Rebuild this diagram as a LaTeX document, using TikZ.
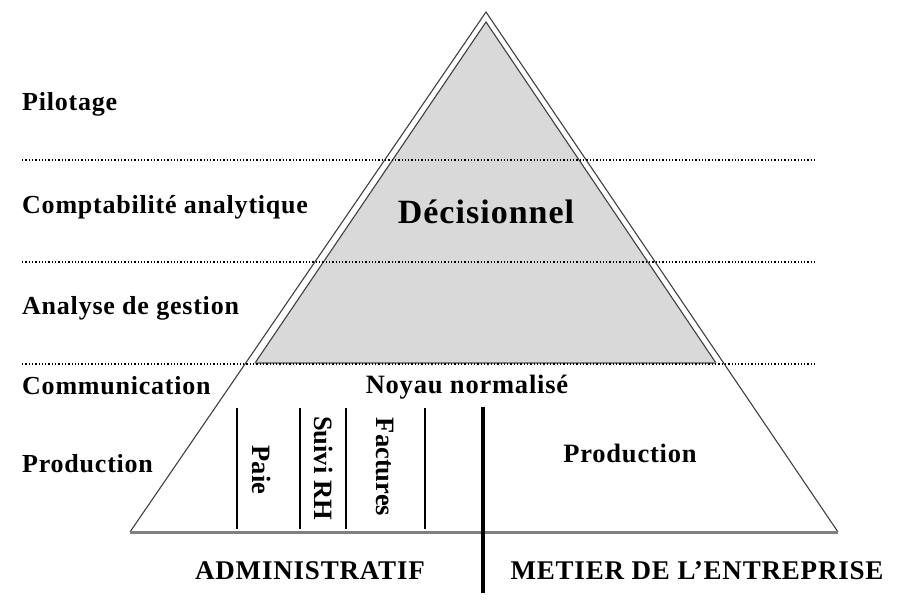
\documentclass[tikz,border=0pt]{standalone}
\usepackage{fontspec}
\setmainfont{Liberation Serif}
\newfontfamily\spaced{Liberation Serif}[LetterSpace=3]
\tikzset{
	level/.style={anchor=west,inner sep=0pt,font=\spaced\bfseries\fontsize{26}{29}\selectfont},
	inlbl/.style={inner sep=0pt,font=\spaced\bfseries\fontsize{26.5}{29}\selectfont},
	vlbl/.style={inner sep=0pt,rotate=-90,font=\bfseries\fontsize{26.5}{29}\selectfont},
	sep/.style={black,dash pattern=on 1.3pt off 2pt,line width=1.3pt},
}
\begin{document}
\begin{tikzpicture}[x=1pt,y=-1pt]
		\useasboundingbox (0,0) rectangle (910,611);
		% outer pyramid
		\coordinate (top) at (486,12);
		\coordinate (bl) at (130,532);
		\coordinate (br) at (838,532);
		\draw[line width=1.1pt,black!75] (bl) -- (top) -- (br);
		\draw[line width=3pt,black!50] (bl) -- (br);
		
		% decision part
		\coordinate (itop) at (486,22);
		\coordinate (ibl) at (255,363);
		\coordinate (ibr) at (716,363);
		\fill[black!15] (ibl) -- (itop) -- (ibr) -- cycle;
		\draw[line width=1.1pt,black!75] (ibl) -- (itop) -- (ibr);
		\draw[line width=2.5pt,black!50] (ibl) -- (ibr);
		
		% level separators
		\foreach \y in {160,262,364}
			\draw[sep] (22,\y) -- (815,\y);
		
		\node[level] (pil) at (22,104) {Pilotage};
		\node[level] (cpt) at (22,207) {Comptabilité analytique};
		\node[level] (ana) at (22,308) {Analyse de gestion};
		\node[level] (com) at (22,386) {Communication};
		\node[level] (prd) at (22,464) {Production};
		
		\node[inner sep=0pt,font=\spaced\bfseries\fontsize{34}{37}\selectfont] (dec) at (486,212) {Décisionnel};
		\node[inlbl] (noy) at (467,387) {Noyau normalisé};
		\node[inlbl] (prod) at (630,453) {Production};
		
		% administrative columns
		\foreach \x in {237,300,346,425}
			\draw[line width=2pt] (\x,408) -- (\x,529);
		\node[vlbl] (paie) at (262,470) {Paie};
		\node[vlbl] (rh) at (324,468) {Suivi RH};
		\node[vlbl] (fac) at (385,467) {Factures};
		
		% divider
		\draw[line width=4.5pt] (483,407) -- (483,593);
		\node[inlbl,font=\spaced\bfseries\fontsize{27}{30}\selectfont] (adm) at (310,571) {ADMINISTRATIF};
		\node[inlbl,font=\spaced\bfseries\fontsize{27}{30}\selectfont] (met) at (697,571) {METIER DE L’ENTREPRISE};
\end{tikzpicture}
\end{document}
